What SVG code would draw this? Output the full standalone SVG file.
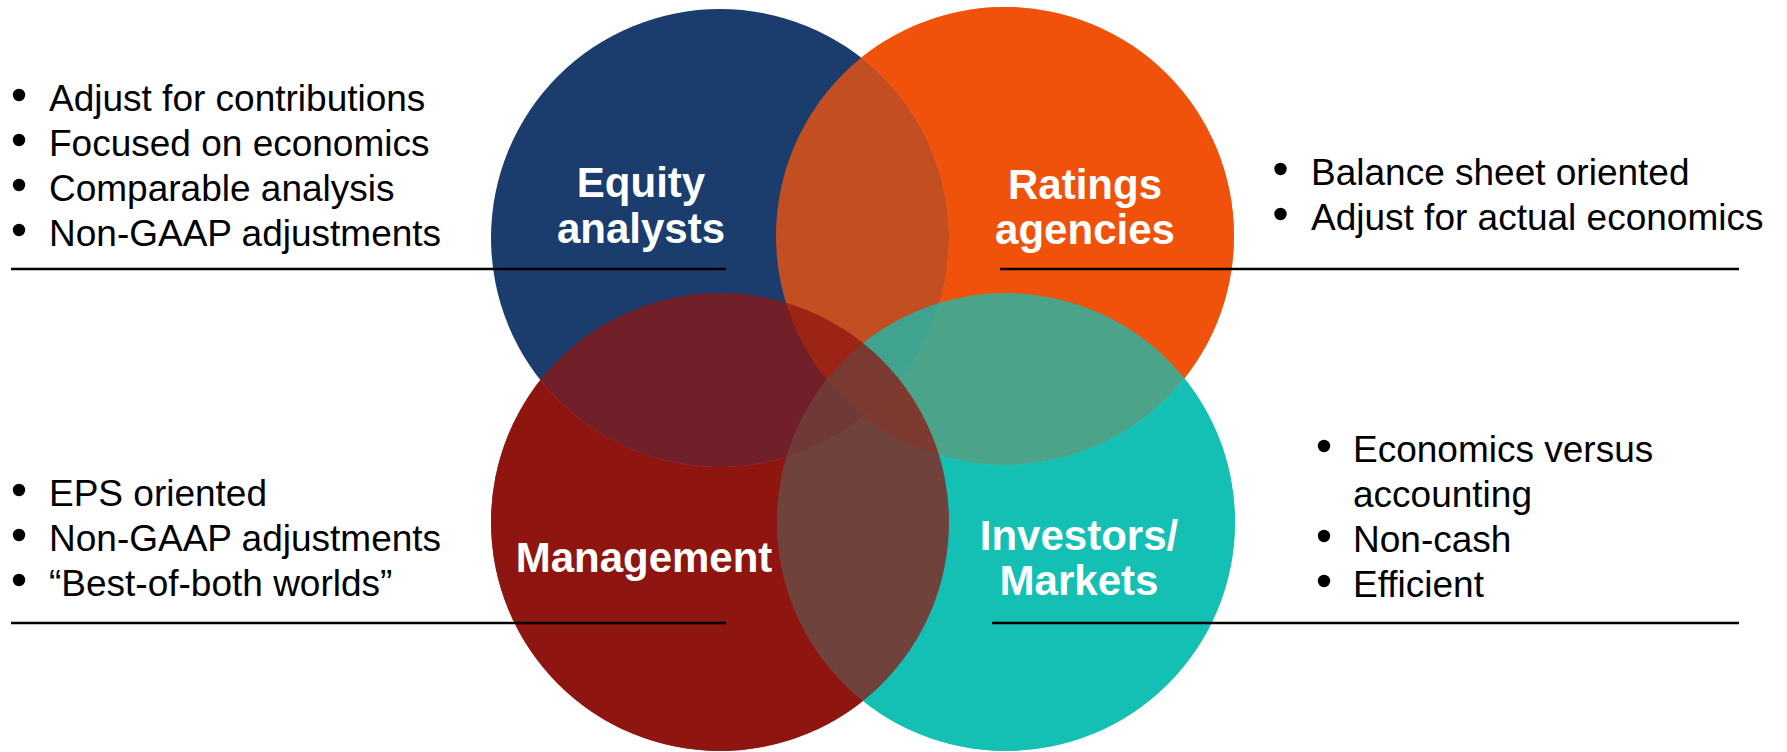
<svg xmlns="http://www.w3.org/2000/svg" xmlns:xlink="http://www.w3.org/1999/xlink" width="1787" height="752" viewBox="0 0 1787 752">
  <style>
    .label { font-family: "Liberation Sans", Arial, sans-serif; font-weight: bold; font-size: 42px; fill: #ffffff; text-anchor: middle; }
    .item { font-family: "Liberation Sans", Arial, sans-serif; font-size: 37px; fill: #000000; }
    .dot { fill: #000000; }
    .rule { stroke: #000000; stroke-width: 2.5; fill: none; }
  </style>
  <defs>
    <circle id="shape-equity" cx="720" cy="238" r="229"/>
    <circle id="shape-ratings" cx="1005" cy="236" r="229"/>
    <circle id="shape-investors" cx="1006" cy="522" r="229"/>
    <circle id="shape-management" cx="720" cy="522" r="229"/>
    <!-- each mask keeps a circle fully opaque only where no earlier circle lies beneath it -->
    <mask id="clear-of-equity" maskUnits="userSpaceOnUse" x="0" y="0" width="1787" height="752">
      <rect width="1787" height="752" fill="#fff"/>
      <use xlink:href="#shape-equity" fill="#000"/>
    </mask>
    <mask id="clear-of-top" maskUnits="userSpaceOnUse" x="0" y="0" width="1787" height="752">
      <rect width="1787" height="752" fill="#fff"/>
      <use xlink:href="#shape-equity" fill="#000"/>
      <use xlink:href="#shape-ratings" fill="#000"/>
    </mask>
    <mask id="clear-of-three" maskUnits="userSpaceOnUse" x="0" y="0" width="1787" height="752">
      <rect width="1787" height="752" fill="#fff"/>
      <use xlink:href="#shape-equity" fill="#000"/>
      <use xlink:href="#shape-ratings" fill="#000"/>
      <use xlink:href="#shape-investors" fill="#000"/>
    </mask>
  </defs>

  <rect width="1787" height="752" fill="#ffffff"/>

  <g id="equity-analysts">
    <use xlink:href="#shape-equity" fill="#1B3D6D"/>
    <text class="label" x="641" y="197">Equity</text>
    <text class="label" x="641" y="243">analysts</text>
  </g>

  <g id="ratings-agencies">
    <use xlink:href="#shape-ratings" fill="#F0520D" mask="url(#clear-of-equity)"/>
    <use xlink:href="#shape-ratings" fill="#F0520D" fill-opacity="0.79"/>
    <text class="label" x="1085" y="199">Ratings</text>
    <text class="label" x="1085" y="244">agencies</text>
  </g>

  <g id="investors-markets">
    <use xlink:href="#shape-investors" fill="#14C0B4" mask="url(#clear-of-top)"/>
    <use xlink:href="#shape-investors" fill="#14C0B4" fill-opacity="0.75"/>
    <text class="label" x="1079" y="550">Investors/</text>
    <text class="label" x="1079" y="595">Markets</text>
  </g>

  <g id="management">
    <use xlink:href="#shape-management" fill="#8F1511" mask="url(#clear-of-three)"/>
    <use xlink:href="#shape-management" fill="#8F1511" fill-opacity="0.74"/>
    <text class="label" x="644" y="572">Management</text>
  </g>

  <g id="notes-equity">
    <circle class="dot" cx="19" cy="95" r="6.2"/>
    <circle class="dot" cx="19" cy="140" r="6.2"/>
    <circle class="dot" cx="19" cy="185" r="6.2"/>
    <circle class="dot" cx="19" cy="230" r="6.2"/>
    <text class="item" x="49" y="111">Adjust for contributions</text>
    <text class="item" x="49" y="156">Focused on economics</text>
    <text class="item" x="49" y="201">Comparable analysis</text>
    <text class="item" x="49" y="246">Non-GAAP adjustments</text>
  </g>

  <g id="notes-ratings">
    <circle class="dot" cx="1280.5" cy="169" r="6.2"/>
    <circle class="dot" cx="1280.5" cy="214" r="6.2"/>
    <text class="item" x="1311" y="185">Balance sheet oriented</text>
    <text class="item" x="1311" y="230">Adjust for actual economics</text>
  </g>

  <g id="notes-management">
    <circle class="dot" cx="19" cy="490" r="6.2"/>
    <circle class="dot" cx="19" cy="535" r="6.2"/>
    <circle class="dot" cx="19" cy="580" r="6.2"/>
    <text class="item" x="49" y="506">EPS oriented</text>
    <text class="item" x="49" y="551">Non-GAAP adjustments</text>
    <text class="item" x="49" y="596">“Best-of-both worlds”</text>
  </g>

  <g id="notes-investors">
    <circle class="dot" cx="1324" cy="446" r="6.2"/>
    <circle class="dot" cx="1324" cy="536" r="6.2"/>
    <circle class="dot" cx="1324" cy="581" r="6.2"/>
    <text class="item" x="1353" y="462">Economics versus</text>
    <text class="item" x="1353" y="507">accounting</text>
    <text class="item" x="1353" y="552">Non-cash</text>
    <text class="item" x="1353" y="597">Efficient</text>
  </g>

  <g id="connectors">
    <line class="rule" x1="11" y1="269" x2="726" y2="269"/>
    <line class="rule" x1="1000" y1="269" x2="1739" y2="269"/>
    <line class="rule" x1="11" y1="623" x2="726" y2="623"/>
    <line class="rule" x1="992" y1="623" x2="1739" y2="623"/>
  </g>
</svg>
